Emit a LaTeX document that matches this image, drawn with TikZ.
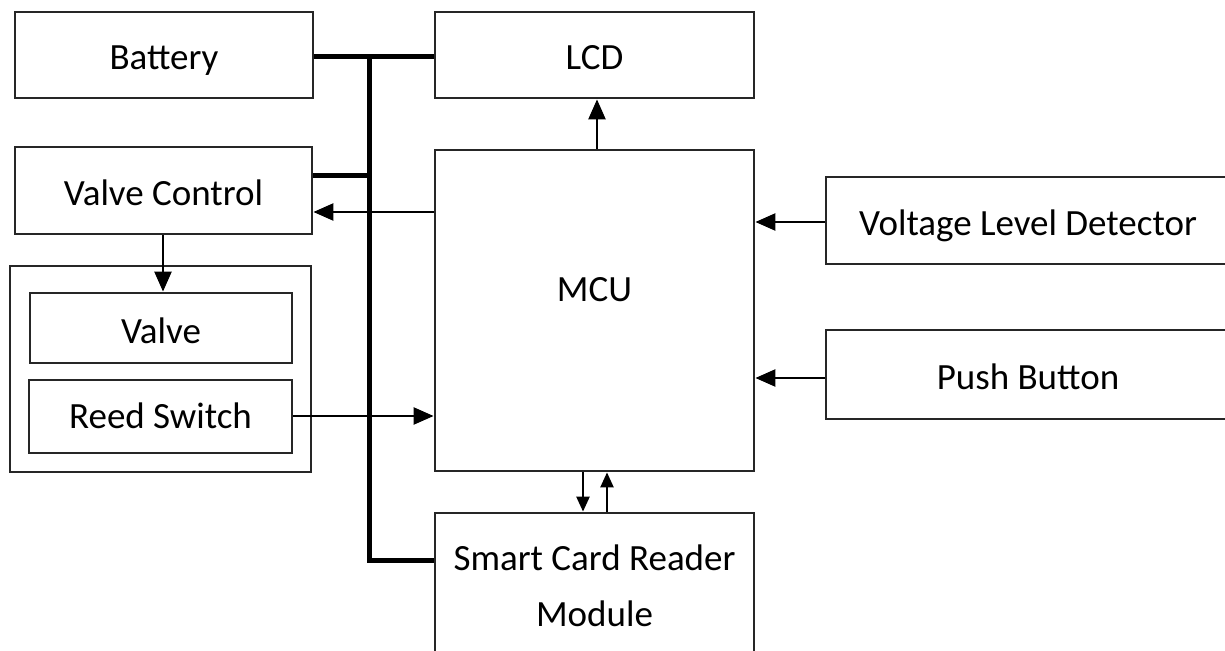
\documentclass[tikz,border=0pt]{standalone}
\usepackage{fontspec}
\setmainfont{Carlito}
\usetikzlibrary{arrows.meta}
\begin{document}
\begin{tikzpicture}[x=1pt,y=-1pt,
  box/.style={draw=black!85,line width=2.8pt,inner sep=0pt,font=\fontsize{37}{56}\selectfont,align=center},
  onel/.style={text height=36pt,text depth=6pt},
  bus/.style={line width=5pt,line cap=butt},
  sig/.style={line width=2.4pt,-{Triangle[length=20pt,width=17pt]}},
  sigs/.style={line width=2.4pt,-{Triangle[length=15pt,width=13pt]}}]
\useasboundingbox (0,0) rectangle (1225,650);
\clip (0,0) rectangle (1225,650);
\node[box,onel,minimum width=298pt,minimum height=86pt] (bat) at (164,55) {Battery};
\node[box,onel,minimum width=319pt,minimum height=86pt] (lcd) at (594.5,55) {LCD};
\node[box,onel,minimum width=297pt,minimum height=87pt] (vc) at (163.5,190.5) {Valve Control};
\node[box,minimum width=301pt,minimum height=206pt] (grp) at (160.5,369) {};
\node[box,onel,minimum width=262pt,minimum height=70pt] (valve) at (161,328) {Valve};
\node[box,text height=30pt,text depth=6pt,minimum width=263pt,minimum height=73pt] (reed) at (160.5,416.5) {Reed Switch};
\node[box,minimum width=319pt,minimum height=321pt] (mcu) at (594.5,310.5) {};
\node[font=\fontsize{37}{56}\selectfont] (mcutxt) at (594.5,290) {MCU};
\node[box,minimum width=319pt,minimum height=146pt] (scr) at (594.5,586) {Smart Card Reader\\Module};
\node[box,onel,minimum width=404pt,minimum height=87pt] (vld) at (1028,220.5) {Voltage Level Detector};
\node[box,onel,minimum width=404pt,minimum height=89pt] (pb) at (1028,374.5) {Push Button};
\coordinate (bustop) at (369,57);
\coordinate (busbot) at (369,560);
% power bus
\draw[bus] (bat.east |- bustop) -- (lcd.west |- bustop);
\draw[bus] (bustop) -- (busbot) -- (scr.west |- busbot);
\draw[bus] (vc.east |- 0,175) -- (369,175);
% signals
\draw[sig] (mcu.north -| 597,0) -- (lcd.south -| 597,0);
\draw[sig] (mcu.west |- 0,212) -- (vc.east |- 0,212);
\draw[sig] (vc.south -| 163,0) -- (valve.north -| 163,0);
\draw[sig] (reed.east |- 0,416) -- (mcu.west |- 0,416);
\draw[sig] (vld.west |- 0,222) -- (mcu.east |- 0,222);
\draw[sig] (pb.west |- 0,378) -- (mcu.east |- 0,378);
\draw[sigs] (mcu.south -| 583,0) -- (scr.north -| 583,0);
\draw[sigs] (scr.north -| 607,0) -- (mcu.south -| 607,0);
\end{tikzpicture}
\end{document}
